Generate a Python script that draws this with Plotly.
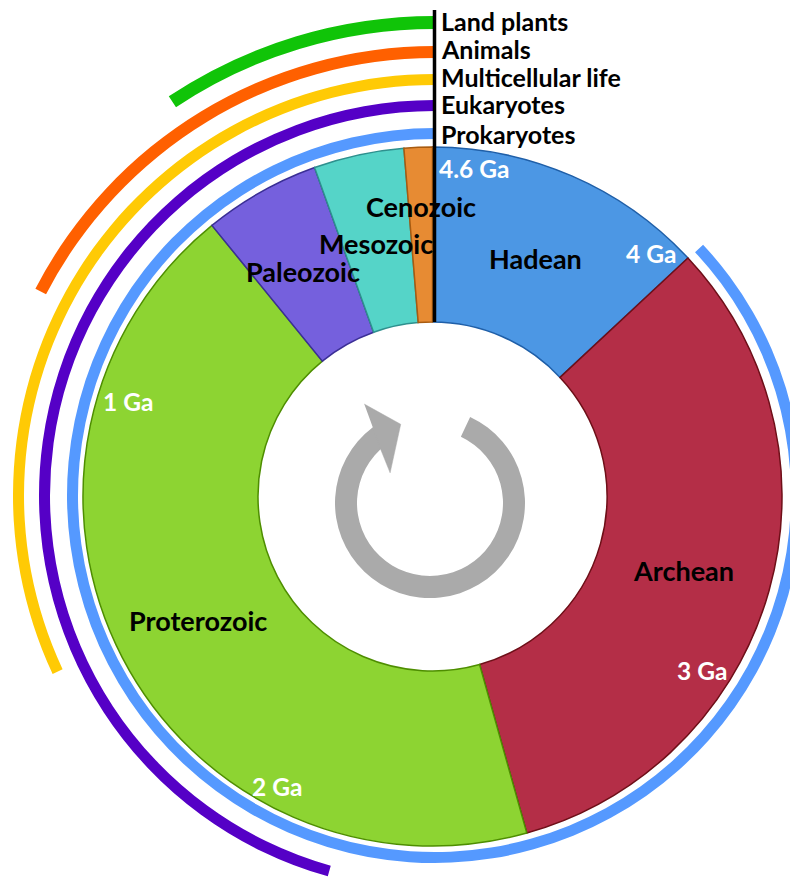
"""
Geological clock: eons and eras of Earth history with the spans of life above them
"""
import plotly.graph_objects as go

# Divisions, ages in Ga (billions of years ago)
eras = ['Hadean', 'Archean', 'Proterozoic', 'Paleozoic', 'Mesozoic', 'Cenozoic']
era_start = [4.6, 4.0, 2.5, 0.5, 0.252, 0.06]
era_end = [4.0, 2.5, 0.5, 0.252, 0.06, 0.0]
era_colors = ['#4C97E4', '#B42E47', '#8DD432', '#7560DD', '#55D4C8', '#E78B33']
era_lines = ['#1F5FA8', '#6E0F18', '#4E8E00', '#3B2F96', '#2E908E', '#A85B10']

# Life spans, all run up to the present
life = ['Land plants', 'Animals', 'Multicellular life', 'Eukaryotes', 'Prokaryotes']
life_start = [0.43, 0.80, 1.47, 2.1, 4.0]
life_colors = ['#10C408', '#FF6000', '#FFCA05', '#5500C6', '#5599FF']
life_inner = [466.5, 437.5, 410.5, 384.5, 356.5]
life_width = [13, 12, 11, 11, 11]

age_ticks = ['4.6 Ga', '4 Ga', '3 Ga', '2 Ga', '1 Ga']

# Circular arrow in the hole, degrees clockwise from the top
arrow_start = 25
arrow_end = 323
head_theta = [326.4, 339.6, 307.1, 317.2, 322.8]
head_r = [118.8, 84, 50, 72.2, 94.2]

# The drawing runs past the window edges, so the page is bigger than the window
W = H = 999
OFF_X, OFF_Y = 65, 4


def to_deg(age):
    return (4.6 - age) * 360 / 4.6


def domain(cx, cy, radius):
    x0 = (cx + OFF_X - radius) / W
    x1 = (cx + OFF_X + radius) / W
    y0 = 1 - (cy + OFF_Y + radius) / H
    y1 = 1 - (cy + OFF_Y - radius) / H
    return dict(x=[x0, x1], y=[y0, y1])


def polar_layout(cx, cy, radius):
    return dict(
        domain=domain(cx, cy, radius),
        bgcolor='rgba(0,0,0,0)',
        barmode='overlay',
        radialaxis=dict(visible=False, range=[0, radius]),
        angularaxis=dict(visible=False, direction='clockwise', rotation=90),
    )


fig = go.Figure()

# Eons and eras
fig.add_trace(go.Barpolar(
    theta=[(to_deg(s) + to_deg(e)) / 2 for s, e in zip(era_start, era_end)],
    width=[to_deg(e) - to_deg(s) for s, e in zip(era_start, era_end)],
    r=[175] * len(eras),
    base=[174.5] * len(eras),
    marker=dict(color=era_colors, line=dict(color=era_lines, width=1.5)),
    subplot='polar',
))

# Grey arrow
fig.add_trace(go.Barpolar(
    theta=[(arrow_start + arrow_end) / 2],
    width=[arrow_end - arrow_start],
    r=[22],
    base=[73],
    marker=dict(color='#AAAAAA', line=dict(width=0)),
    subplot='polar2',
))
fig.add_trace(go.Scatterpolar(
    theta=head_theta,
    r=head_r,
    mode='lines',
    fill='toself',
    fillcolor='#AAAAAA',
    line=dict(color='#AAAAAA', width=0.5),
    subplot='polar2',
))

# Life arcs and the line at the present
fig.add_trace(go.Barpolar(
    theta=[(to_deg(s) + 360) / 2 for s in life_start],
    width=[360 - to_deg(s) for s in life_start],
    r=life_width,
    base=life_inner,
    marker=dict(color=life_colors, line=dict(width=0)),
    subplot='polar3',
))
fig.add_trace(go.Scatterpolar(
    theta=[0, 0],
    r=[173.5, 485.5],
    mode='lines',
    line=dict(color='black', width=3.5),
    subplot='polar3',
))


def label(text, px, py, size, color='black'):
    fig.add_annotation(
        text=text,
        x=(px + OFF_X) / W,
        y=1 - (py + OFF_Y) / H,
        xref='paper',
        yref='paper',
        xanchor='left',
        yanchor='middle',
        showarrow=False,
        font=dict(family='Lato', size=size, color=color, weight='bold'),
    )


life_y = [21, 49, 77, 104, 134]
for name, y in zip(life, life_y):
    label(name, 439, y, 25)

era_x = [487, 631, 127, 244, 317, 364]
era_y = [259, 570, 620, 271, 244, 206]
for name, x, y in zip(eras, era_x, era_y):
    label(name, x, y, 27)

tick_x = [437, 624, 675, 250, 101]
tick_y = [168, 254, 670, 786, 402]
for name, x, y in zip(age_ticks, tick_x, tick_y):
    label(name, x, y, 24.5, color='white')

fig.update_layout(
    width=W,
    height=H,
    autosize=False,
    margin=dict(l=0, r=0, t=0, b=0),
    paper_bgcolor='rgba(0,0,0,0)',
    showlegend=False,
    polar=polar_layout(432.5, 496.5, 360),
    polar2=polar_layout(430, 503, 130),
    polar3=polar_layout(434.5, 495.5, 499.5),
)

# Shift the plot so that the circles sit where they should and the window crops the rest
shift = f"""
document.body.style.margin = '0';
document.documentElement.style.overflow = 'hidden';
document.body.style.overflow = 'hidden';
var gd = document.getElementById('{{plot_id}}');
gd.style.position = 'absolute';
gd.style.left = '{-OFF_X}px';
gd.style.top = '{-OFF_Y}px';
"""

fig.write_html("out.html", post_script=shift, config=dict(displayModeBar=False))
